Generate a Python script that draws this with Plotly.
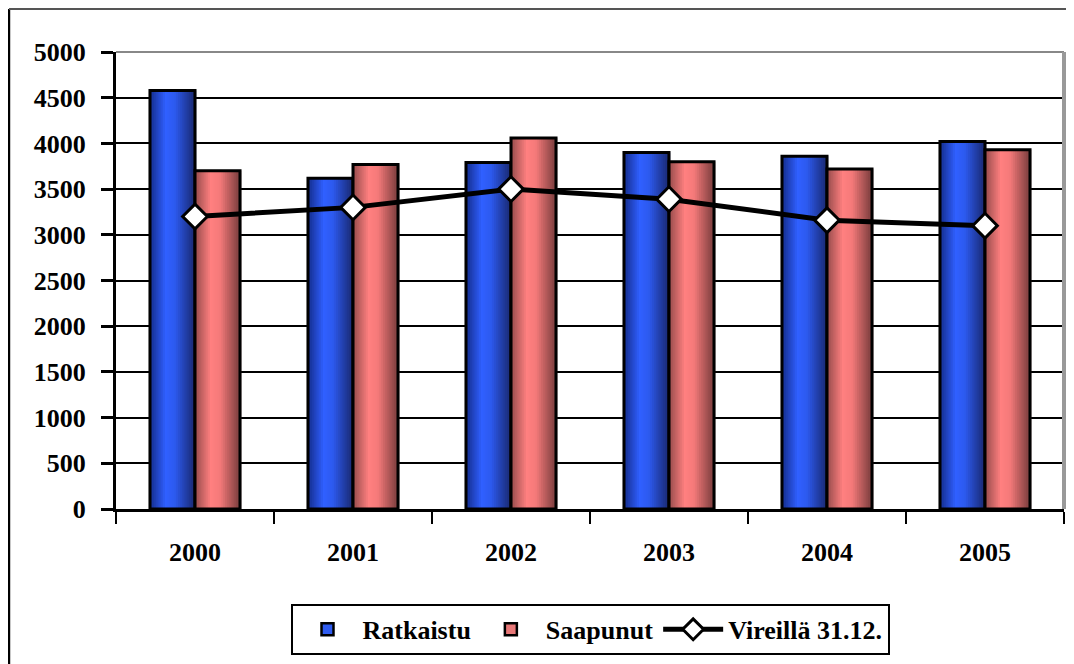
import plotly.graph_objects as go

years = ["2000", "2001", "2002", "2003", "2004", "2005"]
ratkaistu = [4580, 3620, 3790, 3900, 3860, 4020]
saapunut = [3700, 3770, 4060, 3800, 3720, 3930]
vireilla = [3200, 3300, 3500, 3390, 3160, 3100]

FONT = "Liberation Serif"
TXT = dict(family=FONT, size=26, color="black", weight="bold")
BAR_W = 0.285
N_STRIPS = 24

# cylinder-like shading: colour ramps across the bar width (left -> right)
blue_stops = [(0.0, (20, 45, 140)), (0.35, (48, 96, 255)), (0.55, (45, 90, 240)), (1.0, (25, 40, 110))]
pink_stops = [(0.0, (150, 75, 75)), (0.35, (255, 128, 128)), (0.55, (245, 122, 122)), (1.0, (120, 60, 60))]


def ramp(stops, t):
    for (t0, c0), (t1, c1) in zip(stops, stops[1:]):
        if t <= t1:
            f = (t - t0) / (t1 - t0)
            return "rgb(%d,%d,%d)" % tuple(round(a + (b - a) * f) for a, b in zip(c0, c1))
    return "rgb(%d,%d,%d)" % stops[-1][1]


fig = go.Figure()


def add_bar(values, stops, start, name, legend_color):
    w = BAR_W / N_STRIPS
    for i in range(N_STRIPS):
        fig.add_trace(go.Bar(x=years, y=values, width=w * 1.6, offset=start + i * w,
                             marker=dict(color=ramp(stops, (i + 0.5) / N_STRIPS), line=dict(width=0)),
                             showlegend=False, hoverinfo="skip"))
    fig.add_trace(go.Bar(x=years, y=values, width=BAR_W, offset=start, name=name,
                         marker=dict(color="rgba(0,0,0,0)", line=dict(color="black", width=3)),
                         showlegend=False))
    # legend-only entry
    fig.add_trace(go.Bar(x=[years[0]], y=[None], name=name,
                         marker=dict(color=legend_color, line=dict(color="black", width=2.5))))


add_bar(ratkaistu, blue_stops, -BAR_W, "Ratkaistu", "#2f5cf0")
add_bar(saapunut, pink_stops, 0, "Saapunut", "#e87878")

fig.add_trace(go.Scatter(x=years, y=vireilla, mode="lines+markers", name="Vireillä 31.12.",
                         line=dict(color="black", width=5),
                         marker=dict(symbol="diamond", size=19, color="white",
                                     line=dict(color="black", width=3))))

# page body adds an 8px offset, so the figure is sized and placed for that
fig.update_layout(
    width=1066, height=656,
    barmode="overlay",
    plot_bgcolor="white", paper_bgcolor="white",
    margin=dict(l=108, r=10, t=44, b=154),
    font=TXT,
    showlegend=True,
    legend=dict(orientation="h", x=0.5, xanchor="center", y=-0.205, yanchor="top",
                bordercolor="black", borderwidth=2, bgcolor="white",
                font=TXT, traceorder="normal", itemwidth=60),
    shapes=[
        dict(type="line", xref="paper", yref="paper", x0=-0.1129, x1=-0.1129, y0=-0.4, y1=1.094,
             line=dict(color="black", width=2.5)),
        dict(type="line", xref="paper", yref="paper", x0=-0.1129, x1=1.2, y0=1.094, y1=1.094,
             line=dict(color="#555555", width=2)),
        dict(type="line", xref="paper", yref="paper", x0=0, x1=1, y0=1, y1=1,
             line=dict(color="#888888", width=2)),
        dict(type="line", xref="paper", yref="paper", x0=1, x1=1, y0=0, y1=1,
             line=dict(color="#999999", width=4)),
    ],
)

fig.update_xaxes(type="category", tickson="boundaries", ticks="outside", ticklen=12, tickwidth=2,
                 tickcolor="black", showline=True, linecolor="black", linewidth=2.5,
                 showgrid=False, ticklabelstandoff=18, tickfont=TXT)
fig.update_yaxes(range=[0, 5000], dtick=500, ticks="outside", ticklen=12, tickwidth=2.5,
                 tickcolor="black", showline=True, linecolor="black", linewidth=3,
                 showgrid=True, gridcolor="black", gridwidth=1.5, zeroline=False,
                 ticklabelstandoff=10, tickfont=TXT)

fig.write_html("out.html")
